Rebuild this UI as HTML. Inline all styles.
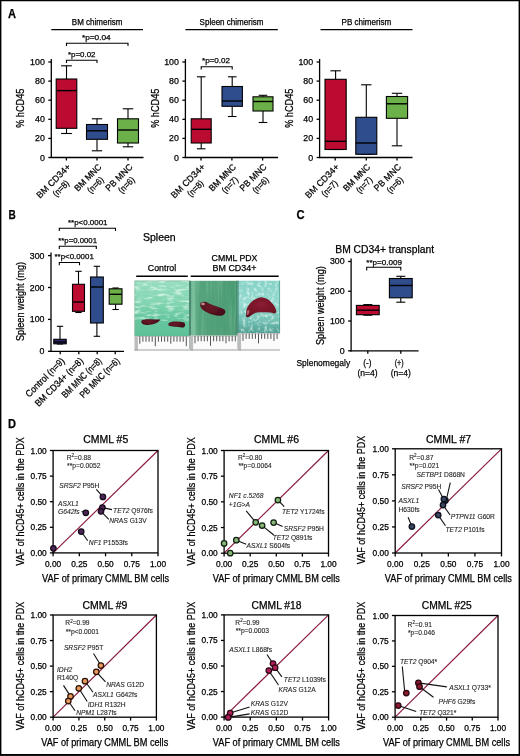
<!DOCTYPE html>
<html><head><meta charset="utf-8"><style>
html,body{margin:0;padding:0;background:#fff;}
body{width:520px;height:756px;overflow:hidden;position:relative;}
svg{position:absolute;left:0;top:0;will-change:transform;filter:blur(0.3px);}
text{font-family:"Liberation Sans", sans-serif;stroke:currentColor;stroke-width:0.25px;}
text.sm{stroke:#333;stroke-width:0.12px;}
</style></head><body>
<svg width="520" height="756" viewBox="0 0 520 756" font-family='"Liberation Sans", sans-serif'>
<rect x="0" y="0" width="520" height="756" fill="#fff"/>
<text x="8.00" y="18.40" font-size="12.6" font-weight="bold" textLength="8.00" lengthAdjust="spacingAndGlyphs">A</text>
<text x="8.40" y="218.90" font-size="12.6" font-weight="bold" textLength="7.30" lengthAdjust="spacingAndGlyphs">B</text>
<text x="296.60" y="218.80" font-size="12.6" font-weight="bold" textLength="8.10" lengthAdjust="spacingAndGlyphs">C</text>
<text x="8.10" y="428.40" font-size="12.6" font-weight="bold" textLength="8.00" lengthAdjust="spacingAndGlyphs">D</text>
<text x="97.15" y="25.10" font-size="8.2" text-anchor="middle" textLength="50.70" lengthAdjust="spacingAndGlyphs">BM chimerism</text>
<line x1="51.30" y1="29.60" x2="143.00" y2="29.60" stroke="#000" stroke-width="1.3"/>
<line x1="51.30" y1="59.00" x2="51.30" y2="158.10" stroke="#000" stroke-width="1.3"/>
<line x1="48.30" y1="157.50" x2="51.30" y2="157.50" stroke="#000" stroke-width="1.3"/>
<text x="44.80" y="160.50" font-size="8.8" text-anchor="end">0</text>
<line x1="48.30" y1="138.40" x2="51.30" y2="138.40" stroke="#000" stroke-width="1.3"/>
<text x="44.80" y="141.40" font-size="8.8" text-anchor="end">20</text>
<line x1="48.30" y1="119.30" x2="51.30" y2="119.30" stroke="#000" stroke-width="1.3"/>
<text x="44.80" y="122.30" font-size="8.8" text-anchor="end">40</text>
<line x1="48.30" y1="100.20" x2="51.30" y2="100.20" stroke="#000" stroke-width="1.3"/>
<text x="44.80" y="103.20" font-size="8.8" text-anchor="end">60</text>
<line x1="48.30" y1="81.10" x2="51.30" y2="81.10" stroke="#000" stroke-width="1.3"/>
<text x="44.80" y="84.10" font-size="8.8" text-anchor="end">80</text>
<line x1="48.30" y1="62.00" x2="51.30" y2="62.00" stroke="#000" stroke-width="1.3"/>
<text x="44.80" y="65.00" font-size="8.8" text-anchor="end">100</text>
<line x1="50.70" y1="157.50" x2="143.50" y2="157.50" stroke="#000" stroke-width="1.3"/>
<line x1="66.40" y1="157.50" x2="66.40" y2="160.50" stroke="#000" stroke-width="1.3"/>
<line x1="97.00" y1="157.50" x2="97.00" y2="160.50" stroke="#000" stroke-width="1.3"/>
<line x1="128.00" y1="157.50" x2="128.00" y2="160.50" stroke="#000" stroke-width="1.3"/>
<text x="24.40" y="108.20" font-size="10" text-anchor="middle" textLength="39.30" lengthAdjust="spacingAndGlyphs" transform="rotate(-90 24.40 108.20)">% hCD45</text>
<line x1="66.50" y1="65.80" x2="66.50" y2="79.00" stroke="#000" stroke-width="1.1"/>
<line x1="66.50" y1="128.30" x2="66.50" y2="133.50" stroke="#000" stroke-width="1.1"/>
<line x1="61.10" y1="65.80" x2="71.90" y2="65.80" stroke="#000" stroke-width="1.1"/>
<line x1="61.10" y1="133.50" x2="71.90" y2="133.50" stroke="#000" stroke-width="1.1"/>
<rect x="56.20" y="79.00" width="20.60" height="49.30" fill="#bb0b30" stroke="#000" stroke-width="1.1"/>
<line x1="56.20" y1="90.60" x2="76.80" y2="90.60" stroke="#000" stroke-width="1.4"/>
<line x1="97.00" y1="118.80" x2="97.00" y2="124.50" stroke="#000" stroke-width="1.1"/>
<line x1="97.00" y1="139.30" x2="97.00" y2="150.80" stroke="#000" stroke-width="1.1"/>
<line x1="91.80" y1="118.80" x2="102.20" y2="118.80" stroke="#000" stroke-width="1.1"/>
<line x1="91.80" y1="150.80" x2="102.20" y2="150.80" stroke="#000" stroke-width="1.1"/>
<rect x="86.50" y="124.50" width="21.00" height="14.80" fill="#2f4c8c" stroke="#000" stroke-width="1.1"/>
<line x1="86.50" y1="130.80" x2="107.50" y2="130.80" stroke="#000" stroke-width="1.4"/>
<line x1="128.00" y1="108.80" x2="128.00" y2="118.80" stroke="#000" stroke-width="1.1"/>
<line x1="128.00" y1="143.00" x2="128.00" y2="146.80" stroke="#000" stroke-width="1.1"/>
<line x1="122.80" y1="108.80" x2="133.20" y2="108.80" stroke="#000" stroke-width="1.1"/>
<line x1="122.80" y1="146.80" x2="133.20" y2="146.80" stroke="#000" stroke-width="1.1"/>
<rect x="117.50" y="118.80" width="21.00" height="24.20" fill="#6cb04a" stroke="#000" stroke-width="1.1"/>
<line x1="117.50" y1="130.00" x2="138.50" y2="130.00" stroke="#000" stroke-width="1.4"/>
<g transform="translate(71.10 167.60) rotate(-45)">
<text x="-22.00" y="0.00" font-size="9" text-anchor="middle" textLength="44.00" lengthAdjust="spacingAndGlyphs">BM CD34+</text>
<text x="-22.00" y="10.60" font-size="9" text-anchor="middle" textLength="19.00" lengthAdjust="spacingAndGlyphs">(n=8)</text>
</g>
<g transform="translate(102.10 167.60) rotate(-45)">
<text x="-17.00" y="0.00" font-size="9" text-anchor="middle" textLength="34.00" lengthAdjust="spacingAndGlyphs">BM MNC</text>
<text x="-17.00" y="10.60" font-size="9" text-anchor="middle" textLength="19.00" lengthAdjust="spacingAndGlyphs">(n=6)</text>
</g>
<g transform="translate(133.10 167.60) rotate(-45)">
<text x="-17.00" y="0.00" font-size="9" text-anchor="middle" textLength="34.00" lengthAdjust="spacingAndGlyphs">PB MNC</text>
<text x="-17.00" y="10.60" font-size="9" text-anchor="middle" textLength="19.00" lengthAdjust="spacingAndGlyphs">(n=6)</text>
</g>
<polyline points="66.50,46.00 66.50,43.20 128.00,43.20 128.00,46.00" fill="none" stroke="#000" stroke-width="1.1"/>
<text x="82.00" y="39.60" font-size="8" textLength="28.70" lengthAdjust="spacingAndGlyphs">*p=0.04</text>
<polyline points="66.50,63.00 66.50,60.20 97.00,60.20 97.00,63.00" fill="none" stroke="#000" stroke-width="1.1"/>
<text x="68.00" y="56.60" font-size="8" textLength="27.50" lengthAdjust="spacingAndGlyphs">*p=0.02</text>
<text x="231.50" y="25.10" font-size="8.2" text-anchor="middle" textLength="63.80" lengthAdjust="spacingAndGlyphs">Spleen chimerism</text>
<line x1="185.40" y1="29.60" x2="277.80" y2="29.60" stroke="#000" stroke-width="1.3"/>
<line x1="185.40" y1="59.00" x2="185.40" y2="158.10" stroke="#000" stroke-width="1.3"/>
<line x1="182.40" y1="157.50" x2="185.40" y2="157.50" stroke="#000" stroke-width="1.3"/>
<text x="178.90" y="160.50" font-size="8.8" text-anchor="end">0</text>
<line x1="182.40" y1="138.40" x2="185.40" y2="138.40" stroke="#000" stroke-width="1.3"/>
<text x="178.90" y="141.40" font-size="8.8" text-anchor="end">20</text>
<line x1="182.40" y1="119.30" x2="185.40" y2="119.30" stroke="#000" stroke-width="1.3"/>
<text x="178.90" y="122.30" font-size="8.8" text-anchor="end">40</text>
<line x1="182.40" y1="100.20" x2="185.40" y2="100.20" stroke="#000" stroke-width="1.3"/>
<text x="178.90" y="103.20" font-size="8.8" text-anchor="end">60</text>
<line x1="182.40" y1="81.10" x2="185.40" y2="81.10" stroke="#000" stroke-width="1.3"/>
<text x="178.90" y="84.10" font-size="8.8" text-anchor="end">80</text>
<line x1="182.40" y1="62.00" x2="185.40" y2="62.00" stroke="#000" stroke-width="1.3"/>
<text x="178.90" y="65.00" font-size="8.8" text-anchor="end">100</text>
<line x1="184.80" y1="157.50" x2="278.10" y2="157.50" stroke="#000" stroke-width="1.3"/>
<line x1="201.00" y1="157.50" x2="201.00" y2="160.50" stroke="#000" stroke-width="1.3"/>
<line x1="231.90" y1="157.50" x2="231.90" y2="160.50" stroke="#000" stroke-width="1.3"/>
<line x1="262.60" y1="157.50" x2="262.60" y2="160.50" stroke="#000" stroke-width="1.3"/>
<text x="158.60" y="108.20" font-size="10" text-anchor="middle" textLength="39.30" lengthAdjust="spacingAndGlyphs" transform="rotate(-90 158.60 108.20)">% hCD45</text>
<line x1="201.20" y1="76.80" x2="201.20" y2="118.80" stroke="#000" stroke-width="1.1"/>
<line x1="201.20" y1="143.00" x2="201.20" y2="148.80" stroke="#000" stroke-width="1.1"/>
<line x1="196.90" y1="76.80" x2="205.50" y2="76.80" stroke="#000" stroke-width="1.1"/>
<line x1="196.90" y1="148.80" x2="205.50" y2="148.80" stroke="#000" stroke-width="1.1"/>
<rect x="191.20" y="118.80" width="20.00" height="24.20" fill="#bb0b30" stroke="#000" stroke-width="1.1"/>
<line x1="191.20" y1="129.30" x2="211.20" y2="129.30" stroke="#000" stroke-width="1.4"/>
<line x1="232.20" y1="76.80" x2="232.20" y2="86.50" stroke="#000" stroke-width="1.1"/>
<line x1="232.20" y1="106.30" x2="232.20" y2="116.50" stroke="#000" stroke-width="1.1"/>
<line x1="227.90" y1="76.80" x2="236.50" y2="76.80" stroke="#000" stroke-width="1.1"/>
<line x1="227.90" y1="116.50" x2="236.50" y2="116.50" stroke="#000" stroke-width="1.1"/>
<rect x="222.00" y="86.50" width="20.40" height="19.80" fill="#2f4c8c" stroke="#000" stroke-width="1.1"/>
<line x1="222.00" y1="101.00" x2="242.40" y2="101.00" stroke="#000" stroke-width="1.4"/>
<line x1="263.00" y1="95.30" x2="263.00" y2="96.80" stroke="#000" stroke-width="1.1"/>
<line x1="263.00" y1="111.00" x2="263.00" y2="122.50" stroke="#000" stroke-width="1.1"/>
<line x1="258.70" y1="95.30" x2="267.30" y2="95.30" stroke="#000" stroke-width="1.1"/>
<line x1="258.70" y1="122.50" x2="267.30" y2="122.50" stroke="#000" stroke-width="1.1"/>
<rect x="253.00" y="96.80" width="20.00" height="14.20" fill="#6cb04a" stroke="#000" stroke-width="1.1"/>
<line x1="253.00" y1="101.50" x2="273.00" y2="101.50" stroke="#000" stroke-width="1.4"/>
<g transform="translate(205.60 167.60) rotate(-45)">
<text x="-22.00" y="0.00" font-size="9" text-anchor="middle" textLength="44.00" lengthAdjust="spacingAndGlyphs">BM CD34+</text>
<text x="-22.00" y="10.60" font-size="9" text-anchor="middle" textLength="19.00" lengthAdjust="spacingAndGlyphs">(n=8)</text>
</g>
<g transform="translate(236.60 167.60) rotate(-45)">
<text x="-17.00" y="0.00" font-size="9" text-anchor="middle" textLength="34.00" lengthAdjust="spacingAndGlyphs">BM MNC</text>
<text x="-17.00" y="10.60" font-size="9" text-anchor="middle" textLength="19.00" lengthAdjust="spacingAndGlyphs">(n=7)</text>
</g>
<g transform="translate(267.20 167.60) rotate(-45)">
<text x="-17.00" y="0.00" font-size="9" text-anchor="middle" textLength="34.00" lengthAdjust="spacingAndGlyphs">PB MNC</text>
<text x="-17.00" y="10.60" font-size="9" text-anchor="middle" textLength="19.00" lengthAdjust="spacingAndGlyphs">(n=6)</text>
</g>
<polyline points="201.20,69.60 201.20,66.80 232.20,66.80 232.20,69.60" fill="none" stroke="#000" stroke-width="1.1"/>
<text x="202.00" y="63.20" font-size="8" textLength="28.00" lengthAdjust="spacingAndGlyphs">*p=0.02</text>
<text x="366.40" y="25.10" font-size="8.2" text-anchor="middle" textLength="49.80" lengthAdjust="spacingAndGlyphs">PB chimerism</text>
<line x1="320.50" y1="29.60" x2="412.50" y2="29.60" stroke="#000" stroke-width="1.3"/>
<line x1="319.60" y1="59.00" x2="319.60" y2="158.10" stroke="#000" stroke-width="1.3"/>
<line x1="316.60" y1="157.50" x2="319.60" y2="157.50" stroke="#000" stroke-width="1.3"/>
<text x="313.10" y="160.50" font-size="8.8" text-anchor="end">0</text>
<line x1="316.60" y1="138.40" x2="319.60" y2="138.40" stroke="#000" stroke-width="1.3"/>
<text x="313.10" y="141.40" font-size="8.8" text-anchor="end">20</text>
<line x1="316.60" y1="119.30" x2="319.60" y2="119.30" stroke="#000" stroke-width="1.3"/>
<text x="313.10" y="122.30" font-size="8.8" text-anchor="end">40</text>
<line x1="316.60" y1="100.20" x2="319.60" y2="100.20" stroke="#000" stroke-width="1.3"/>
<text x="313.10" y="103.20" font-size="8.8" text-anchor="end">60</text>
<line x1="316.60" y1="81.10" x2="319.60" y2="81.10" stroke="#000" stroke-width="1.3"/>
<text x="313.10" y="84.10" font-size="8.8" text-anchor="end">80</text>
<line x1="316.60" y1="62.00" x2="319.60" y2="62.00" stroke="#000" stroke-width="1.3"/>
<text x="313.10" y="65.00" font-size="8.8" text-anchor="end">100</text>
<line x1="319.00" y1="157.50" x2="412.50" y2="157.50" stroke="#000" stroke-width="1.3"/>
<line x1="335.20" y1="157.50" x2="335.20" y2="160.50" stroke="#000" stroke-width="1.3"/>
<line x1="366.30" y1="157.50" x2="366.30" y2="160.50" stroke="#000" stroke-width="1.3"/>
<line x1="397.00" y1="157.50" x2="397.00" y2="160.50" stroke="#000" stroke-width="1.3"/>
<text x="293.40" y="108.20" font-size="10" text-anchor="middle" textLength="39.30" lengthAdjust="spacingAndGlyphs" transform="rotate(-90 293.40 108.20)">% hCD45</text>
<line x1="335.60" y1="70.80" x2="335.60" y2="79.30" stroke="#000" stroke-width="1.1"/>
<line x1="335.60" y1="149.50" x2="335.60" y2="149.50" stroke="#000" stroke-width="1.1"/>
<line x1="330.40" y1="70.80" x2="340.80" y2="70.80" stroke="#000" stroke-width="1.1"/>
<line x1="330.40" y1="149.50" x2="340.80" y2="149.50" stroke="#000" stroke-width="1.1"/>
<rect x="325.00" y="79.30" width="21.20" height="70.20" fill="#bb0b30" stroke="#000" stroke-width="1.1"/>
<line x1="325.00" y1="141.30" x2="346.20" y2="141.30" stroke="#000" stroke-width="1.4"/>
<line x1="366.30" y1="84.80" x2="366.30" y2="117.30" stroke="#000" stroke-width="1.1"/>
<line x1="366.30" y1="154.30" x2="366.30" y2="154.30" stroke="#000" stroke-width="1.1"/>
<line x1="361.10" y1="84.80" x2="371.50" y2="84.80" stroke="#000" stroke-width="1.1"/>
<line x1="361.10" y1="154.30" x2="371.50" y2="154.30" stroke="#000" stroke-width="1.1"/>
<rect x="355.80" y="117.30" width="21.00" height="37.00" fill="#2f4c8c" stroke="#000" stroke-width="1.1"/>
<line x1="355.80" y1="143.00" x2="376.80" y2="143.00" stroke="#000" stroke-width="1.4"/>
<line x1="397.00" y1="93.30" x2="397.00" y2="96.50" stroke="#000" stroke-width="1.1"/>
<line x1="397.00" y1="118.30" x2="397.00" y2="145.80" stroke="#000" stroke-width="1.1"/>
<line x1="391.80" y1="93.30" x2="402.20" y2="93.30" stroke="#000" stroke-width="1.1"/>
<line x1="391.80" y1="145.80" x2="402.20" y2="145.80" stroke="#000" stroke-width="1.1"/>
<rect x="386.40" y="96.50" width="21.20" height="21.80" fill="#6cb04a" stroke="#000" stroke-width="1.1"/>
<line x1="386.40" y1="103.80" x2="407.60" y2="103.80" stroke="#000" stroke-width="1.4"/>
<g transform="translate(339.80 167.60) rotate(-45)">
<text x="-22.00" y="0.00" font-size="9" text-anchor="middle" textLength="44.00" lengthAdjust="spacingAndGlyphs">BM CD34+</text>
<text x="-22.00" y="10.60" font-size="9" text-anchor="middle" textLength="19.00" lengthAdjust="spacingAndGlyphs">(n=7)</text>
</g>
<g transform="translate(370.90 167.60) rotate(-45)">
<text x="-17.00" y="0.00" font-size="9" text-anchor="middle" textLength="34.00" lengthAdjust="spacingAndGlyphs">BM MNC</text>
<text x="-17.00" y="10.60" font-size="9" text-anchor="middle" textLength="19.00" lengthAdjust="spacingAndGlyphs">(n=7)</text>
</g>
<g transform="translate(401.60 167.60) rotate(-45)">
<text x="-17.00" y="0.00" font-size="9" text-anchor="middle" textLength="34.00" lengthAdjust="spacingAndGlyphs">PB MNC</text>
<text x="-17.00" y="10.60" font-size="9" text-anchor="middle" textLength="19.00" lengthAdjust="spacingAndGlyphs">(n=6)</text>
</g>
<line x1="51.00" y1="252.50" x2="51.00" y2="351.90" stroke="#000" stroke-width="1.3"/>
<line x1="48.00" y1="351.30" x2="51.00" y2="351.30" stroke="#000" stroke-width="1.3"/>
<text x="44.50" y="354.30" font-size="8.8" text-anchor="end">0</text>
<line x1="48.00" y1="319.40" x2="51.00" y2="319.40" stroke="#000" stroke-width="1.3"/>
<text x="44.50" y="322.40" font-size="8.8" text-anchor="end">100</text>
<line x1="48.00" y1="287.50" x2="51.00" y2="287.50" stroke="#000" stroke-width="1.3"/>
<text x="44.50" y="290.50" font-size="8.8" text-anchor="end">200</text>
<line x1="48.00" y1="255.60" x2="51.00" y2="255.60" stroke="#000" stroke-width="1.3"/>
<text x="44.50" y="258.60" font-size="8.8" text-anchor="end">300</text>
<line x1="50.40" y1="351.30" x2="124.00" y2="351.30" stroke="#000" stroke-width="1.3"/>
<line x1="60.20" y1="351.30" x2="60.20" y2="354.30" stroke="#000" stroke-width="1.3"/>
<line x1="78.80" y1="351.30" x2="78.80" y2="354.30" stroke="#000" stroke-width="1.3"/>
<line x1="97.20" y1="351.30" x2="97.20" y2="354.30" stroke="#000" stroke-width="1.3"/>
<line x1="115.20" y1="351.30" x2="115.20" y2="354.30" stroke="#000" stroke-width="1.3"/>
<text x="24.20" y="301.50" font-size="10" text-anchor="middle" textLength="79.20" lengthAdjust="spacingAndGlyphs" transform="rotate(-90 24.20 301.50)">Spleen weight (mg)</text>
<line x1="60.00" y1="326.30" x2="60.00" y2="339.30" stroke="#000" stroke-width="1.1"/>
<line x1="60.00" y1="343.80" x2="60.00" y2="344.00" stroke="#000" stroke-width="1.1"/>
<line x1="56.80" y1="326.30" x2="63.20" y2="326.30" stroke="#000" stroke-width="1.1"/>
<line x1="56.80" y1="344.00" x2="63.20" y2="344.00" stroke="#000" stroke-width="1.1"/>
<rect x="53.80" y="339.30" width="12.40" height="4.50" fill="#2b2870" stroke="#000" stroke-width="1.1"/>
<line x1="53.80" y1="342.00" x2="66.20" y2="342.00" stroke="#000" stroke-width="1.4"/>
<line x1="78.50" y1="271.30" x2="78.50" y2="284.30" stroke="#000" stroke-width="1.1"/>
<line x1="78.50" y1="311.30" x2="78.50" y2="312.50" stroke="#000" stroke-width="1.1"/>
<line x1="75.30" y1="271.30" x2="81.70" y2="271.30" stroke="#000" stroke-width="1.1"/>
<line x1="75.30" y1="312.50" x2="81.70" y2="312.50" stroke="#000" stroke-width="1.1"/>
<rect x="72.50" y="284.30" width="12.00" height="27.00" fill="#bb0b30" stroke="#000" stroke-width="1.1"/>
<line x1="72.50" y1="302.00" x2="84.50" y2="302.00" stroke="#000" stroke-width="1.4"/>
<line x1="96.90" y1="266.30" x2="96.90" y2="277.00" stroke="#000" stroke-width="1.1"/>
<line x1="96.90" y1="323.00" x2="96.90" y2="336.30" stroke="#000" stroke-width="1.1"/>
<line x1="93.70" y1="266.30" x2="100.10" y2="266.30" stroke="#000" stroke-width="1.1"/>
<line x1="93.70" y1="336.30" x2="100.10" y2="336.30" stroke="#000" stroke-width="1.1"/>
<rect x="90.50" y="277.00" width="12.80" height="46.00" fill="#2f4c8c" stroke="#000" stroke-width="1.1"/>
<line x1="90.50" y1="287.00" x2="103.30" y2="287.00" stroke="#000" stroke-width="1.4"/>
<line x1="115.60" y1="288.00" x2="115.60" y2="288.80" stroke="#000" stroke-width="1.1"/>
<line x1="115.60" y1="304.20" x2="115.60" y2="309.50" stroke="#000" stroke-width="1.1"/>
<line x1="112.40" y1="288.00" x2="118.80" y2="288.00" stroke="#000" stroke-width="1.1"/>
<line x1="112.40" y1="309.50" x2="118.80" y2="309.50" stroke="#000" stroke-width="1.1"/>
<rect x="109.20" y="288.80" width="12.80" height="15.40" fill="#6cb04a" stroke="#000" stroke-width="1.1"/>
<line x1="109.20" y1="294.30" x2="122.00" y2="294.30" stroke="#000" stroke-width="1.4"/>
<g transform="translate(63.20 359.5) rotate(-45)">
<text x="0.00" y="3.00" font-size="9.5" text-anchor="end" textLength="51.00" lengthAdjust="spacingAndGlyphs">Control (n=9)</text>
</g>
<g transform="translate(81.80 359.5) rotate(-45)">
<text x="0.00" y="3.00" font-size="9.5" text-anchor="end" textLength="64.00" lengthAdjust="spacingAndGlyphs">BM CD34+ (n=8)</text>
</g>
<g transform="translate(100.20 359.5) rotate(-45)">
<text x="0.00" y="3.00" font-size="9.5" text-anchor="end" textLength="52.00" lengthAdjust="spacingAndGlyphs">BM MNC (n=8)</text>
</g>
<g transform="translate(118.20 359.5) rotate(-45)">
<text x="0.00" y="3.00" font-size="9.5" text-anchor="end" textLength="52.00" lengthAdjust="spacingAndGlyphs">PB MNC (n=6)</text>
</g>
<polyline points="59.30,231.10 59.30,228.30 115.50,228.30 115.50,231.10" fill="none" stroke="#000" stroke-width="1.1"/>
<text x="68.00" y="225.10" font-size="8" textLength="39.50" lengthAdjust="spacingAndGlyphs">**p<0.0001</text>
<polyline points="59.30,249.10 59.30,246.30 96.30,246.30 96.30,249.10" fill="none" stroke="#000" stroke-width="1.1"/>
<text x="58.30" y="243.10" font-size="8" textLength="38.70" lengthAdjust="spacingAndGlyphs">**p=0.0001</text>
<polyline points="59.30,265.30 59.30,262.50 79.50,262.50 79.50,265.30" fill="none" stroke="#000" stroke-width="1.1"/>
<text x="54.50" y="259.30" font-size="8" textLength="39.30" lengthAdjust="spacingAndGlyphs">**p<0.0001</text>
<text x="143.00" y="240.50" font-size="10.5" textLength="32.70" lengthAdjust="spacingAndGlyphs">Spleen</text>
<text x="162.00" y="271.00" font-size="9" text-anchor="middle" textLength="28.40" lengthAdjust="spacingAndGlyphs">Control</text>
<text x="234.50" y="261.00" font-size="9" text-anchor="middle" textLength="45.80" lengthAdjust="spacingAndGlyphs">CMML PDX</text>
<text x="234.50" y="271.30" font-size="9" text-anchor="middle" textLength="43.80" lengthAdjust="spacingAndGlyphs">BM CD34+</text>
<line x1="136.20" y1="276.20" x2="187.80" y2="276.20" stroke="#000" stroke-width="1.6"/>
<line x1="190.70" y1="276.20" x2="278.70" y2="276.20" stroke="#000" stroke-width="1.6"/>
<defs><linearGradient id="g1" x1="0" y1="0" x2="0" y2="1"><stop offset="0" stop-color="#98dec0"/><stop offset="0.4" stop-color="#82d5b0"/><stop offset="0.65" stop-color="#68c89f"/><stop offset="1" stop-color="#5cc097"/></linearGradient><linearGradient id="g2" x1="0" y1="0" x2="1" y2="0"><stop offset="0" stop-color="#62ad88"/><stop offset="0.08" stop-color="#7cc29e"/><stop offset="0.16" stop-color="#55a47e"/><stop offset="1" stop-color="#4a9b74"/></linearGradient><linearGradient id="g3" x1="0" y1="0" x2="0" y2="1"><stop offset="0" stop-color="#86d2c6"/><stop offset="0.45" stop-color="#96dacf"/><stop offset="0.75" stop-color="#74c2b5"/><stop offset="1" stop-color="#4f9f92"/></linearGradient><radialGradient id="sp" cx="0.4" cy="0.4" r="0.8"><stop offset="0" stop-color="#6e1828"/><stop offset="1" stop-color="#320a12"/></radialGradient><radialGradient id="sp2" cx="0.4" cy="0.4" r="0.8"><stop offset="0" stop-color="#6a1828"/><stop offset="1" stop-color="#3e0b16"/></radialGradient><radialGradient id="sp3" cx="0.5" cy="0.35" r="0.8"><stop offset="0" stop-color="#8a1c32"/><stop offset="0.7" stop-color="#701324"/><stop offset="1" stop-color="#500a18"/></radialGradient><filter id="blur1" x="-0.2" y="-0.2" width="1.4" height="1.4"><feGaussianBlur stdDeviation="0.6"/></filter><filter id="blur2" x="-0.2" y="-0.2" width="1.4" height="1.4"><feGaussianBlur stdDeviation="0.35"/></filter><filter id="tex1" x="0" y="0" width="1" height="1"><feTurbulence type="fractalNoise" baseFrequency="0.12 0.35" numOctaves="2" seed="3"/><feColorMatrix type="matrix" values="0 0 0 0 0.9  0 0 0 0 1  0 0 0 0 0.95  0 0 0 2.2 -1.05"/><feGaussianBlur stdDeviation="0.5"/><feComposite in2="SourceGraphic" operator="in"/></filter><filter id="tex2" x="0" y="0" width="1" height="1"><feTurbulence type="fractalNoise" baseFrequency="0.35 0.02" numOctaves="2" seed="5"/><feColorMatrix type="matrix" values="0 0 0 0 0.6  0 0 0 0 0.9  0 0 0 0 0.75  0 0 0 2.0 -1.0"/><feGaussianBlur stdDeviation="0.4"/><feComposite in2="SourceGraphic" operator="in"/></filter><filter id="tex3" x="0" y="0" width="1" height="1"><feTurbulence type="fractalNoise" baseFrequency="0.28" numOctaves="2" seed="7"/><feColorMatrix type="matrix" values="0 0 0 0 0.92  0 0 0 0 1  0 0 0 0 0.98  0 0 0 2.6 -1.25"/><feGaussianBlur stdDeviation="0.3"/><feComposite in2="SourceGraphic" operator="in"/></filter></defs>
<rect x="134.50" y="280.60" width="54.70" height="55.80" fill="url(#g1)" stroke="none" stroke-width="0"/>
<polyline points="134.90,336.20 134.90,281.00 189.20,281.00" fill="none" stroke="#8fb8a4" stroke-width="0.8"/>
<rect x="134.5" y="280.6" width="54.7" height="40" fill="#ffffff" filter="url(#tex1)" opacity="0.9"/>
<rect x="189.70" y="280.80" width="47.80" height="55.00" fill="url(#g2)" stroke="none" stroke-width="0"/>
<rect x="190.5" y="280.8" width="46.7" height="55" fill="#ffffff" filter="url(#tex2)" opacity="0.25"/>
<line x1="189.90" y1="280.80" x2="189.90" y2="349.50" stroke="#2d6a50" stroke-width="1.3"/>
<line x1="237.20" y1="280.80" x2="237.20" y2="349.50" stroke="#3d7a60" stroke-width="0.8"/>
<rect x="237.70" y="280.70" width="42.20" height="52.60" fill="url(#g3)" stroke="none" stroke-width="0"/>
<rect x="238.2" y="280.7" width="41.4" height="52.6" fill="#ffffff" filter="url(#tex3)" opacity="0.75"/>
<line x1="238.00" y1="280.70" x2="238.00" y2="349.50" stroke="#3a8070" stroke-width="1.0"/>
<line x1="279.60" y1="280.70" x2="279.60" y2="333.30" stroke="#4a9a8a" stroke-width="0.8"/>
<rect x="134.50" y="336.20" width="54.70" height="14.30" fill="#fbfbfb" stroke="none" stroke-width="0"/>
<line x1="134.50" y1="336.50" x2="189.20" y2="336.50" stroke="#b5b5b5" stroke-width="0.8"/>
<rect x="134.50" y="336.20" width="3.40" height="14.30" fill="#bcbcbc" stroke="none" stroke-width="0"/>
<line x1="134.50" y1="350.00" x2="189.20" y2="350.00" stroke="#a0a0a0" stroke-width="1.0"/>
<line x1="139.80" y1="336.50" x2="139.80" y2="343.70" stroke="#4a4a4a" stroke-width="0.95"/>
<line x1="142.90" y1="336.50" x2="142.90" y2="341.70" stroke="#4a4a4a" stroke-width="0.95"/>
<line x1="146.00" y1="336.50" x2="146.00" y2="341.70" stroke="#4a4a4a" stroke-width="0.95"/>
<line x1="149.10" y1="336.50" x2="149.10" y2="341.70" stroke="#4a4a4a" stroke-width="0.95"/>
<line x1="152.20" y1="336.50" x2="152.20" y2="341.70" stroke="#4a4a4a" stroke-width="0.95"/>
<line x1="155.30" y1="336.50" x2="155.30" y2="346.20" stroke="#4a4a4a" stroke-width="0.95"/>
<line x1="158.40" y1="336.50" x2="158.40" y2="341.70" stroke="#4a4a4a" stroke-width="0.95"/>
<line x1="161.50" y1="336.50" x2="161.50" y2="341.70" stroke="#4a4a4a" stroke-width="0.95"/>
<line x1="164.60" y1="336.50" x2="164.60" y2="341.70" stroke="#4a4a4a" stroke-width="0.95"/>
<line x1="167.70" y1="336.50" x2="167.70" y2="341.70" stroke="#4a4a4a" stroke-width="0.95"/>
<line x1="170.80" y1="336.50" x2="170.80" y2="343.70" stroke="#4a4a4a" stroke-width="0.95"/>
<line x1="173.90" y1="336.50" x2="173.90" y2="341.70" stroke="#4a4a4a" stroke-width="0.95"/>
<line x1="177.00" y1="336.50" x2="177.00" y2="341.70" stroke="#4a4a4a" stroke-width="0.95"/>
<line x1="180.10" y1="336.50" x2="180.10" y2="341.70" stroke="#4a4a4a" stroke-width="0.95"/>
<line x1="183.20" y1="336.50" x2="183.20" y2="341.70" stroke="#4a4a4a" stroke-width="0.95"/>
<line x1="186.30" y1="336.50" x2="186.30" y2="346.20" stroke="#4a4a4a" stroke-width="0.95"/>
<rect x="189.70" y="335.80" width="47.80" height="14.70" fill="#fbfbfb" stroke="none" stroke-width="0"/>
<line x1="189.70" y1="336.10" x2="237.50" y2="336.10" stroke="#b5b5b5" stroke-width="0.8"/>
<rect x="189.70" y="335.80" width="3.40" height="14.70" fill="#bcbcbc" stroke="none" stroke-width="0"/>
<line x1="189.70" y1="350.00" x2="237.50" y2="350.00" stroke="#a0a0a0" stroke-width="1.0"/>
<line x1="195.00" y1="336.10" x2="195.00" y2="343.30" stroke="#4a4a4a" stroke-width="0.95"/>
<line x1="198.10" y1="336.10" x2="198.10" y2="341.30" stroke="#4a4a4a" stroke-width="0.95"/>
<line x1="201.20" y1="336.10" x2="201.20" y2="341.30" stroke="#4a4a4a" stroke-width="0.95"/>
<line x1="204.30" y1="336.10" x2="204.30" y2="341.30" stroke="#4a4a4a" stroke-width="0.95"/>
<line x1="207.40" y1="336.10" x2="207.40" y2="341.30" stroke="#4a4a4a" stroke-width="0.95"/>
<line x1="210.50" y1="336.10" x2="210.50" y2="345.80" stroke="#4a4a4a" stroke-width="0.95"/>
<line x1="213.60" y1="336.10" x2="213.60" y2="341.30" stroke="#4a4a4a" stroke-width="0.95"/>
<line x1="216.70" y1="336.10" x2="216.70" y2="341.30" stroke="#4a4a4a" stroke-width="0.95"/>
<line x1="219.80" y1="336.10" x2="219.80" y2="341.30" stroke="#4a4a4a" stroke-width="0.95"/>
<line x1="222.90" y1="336.10" x2="222.90" y2="341.30" stroke="#4a4a4a" stroke-width="0.95"/>
<line x1="226.00" y1="336.10" x2="226.00" y2="343.30" stroke="#4a4a4a" stroke-width="0.95"/>
<line x1="229.10" y1="336.10" x2="229.10" y2="341.30" stroke="#4a4a4a" stroke-width="0.95"/>
<line x1="232.20" y1="336.10" x2="232.20" y2="341.30" stroke="#4a4a4a" stroke-width="0.95"/>
<line x1="235.30" y1="336.10" x2="235.30" y2="341.30" stroke="#4a4a4a" stroke-width="0.95"/>
<rect x="237.70" y="333.40" width="42.20" height="17.10" fill="#fbfbfb" stroke="none" stroke-width="0"/>
<line x1="237.70" y1="333.70" x2="279.90" y2="333.70" stroke="#b5b5b5" stroke-width="0.8"/>
<rect x="237.70" y="333.40" width="3.40" height="17.10" fill="#bcbcbc" stroke="none" stroke-width="0"/>
<line x1="237.70" y1="350.00" x2="279.90" y2="350.00" stroke="#a0a0a0" stroke-width="1.0"/>
<line x1="243.00" y1="333.70" x2="243.00" y2="340.90" stroke="#4a4a4a" stroke-width="0.95"/>
<line x1="246.10" y1="333.70" x2="246.10" y2="338.90" stroke="#4a4a4a" stroke-width="0.95"/>
<line x1="249.20" y1="333.70" x2="249.20" y2="338.90" stroke="#4a4a4a" stroke-width="0.95"/>
<line x1="252.30" y1="333.70" x2="252.30" y2="338.90" stroke="#4a4a4a" stroke-width="0.95"/>
<line x1="255.40" y1="333.70" x2="255.40" y2="338.90" stroke="#4a4a4a" stroke-width="0.95"/>
<line x1="258.50" y1="333.70" x2="258.50" y2="343.40" stroke="#4a4a4a" stroke-width="0.95"/>
<line x1="261.60" y1="333.70" x2="261.60" y2="338.90" stroke="#4a4a4a" stroke-width="0.95"/>
<line x1="264.70" y1="333.70" x2="264.70" y2="338.90" stroke="#4a4a4a" stroke-width="0.95"/>
<line x1="267.80" y1="333.70" x2="267.80" y2="338.90" stroke="#4a4a4a" stroke-width="0.95"/>
<line x1="270.90" y1="333.70" x2="270.90" y2="338.90" stroke="#4a4a4a" stroke-width="0.95"/>
<line x1="274.00" y1="333.70" x2="274.00" y2="340.90" stroke="#4a4a4a" stroke-width="0.95"/>
<line x1="277.10" y1="333.70" x2="277.10" y2="338.90" stroke="#4a4a4a" stroke-width="0.95"/>
<g filter="url(#blur2)">
<path d="M141.3,321.3 C141.8,318.6 150,319.0 160.2,319.6 C159.4,322.8 152.5,325.3 146.3,325.0 C142.6,324.8 141.0,323.2 141.3,321.3 Z" fill="url(#sp)"/>
<path d="M168.3,323.6 C169.8,321.2 178,321.0 184.2,322.4 C186.0,324.5 185.2,327.7 182.2,327.5 C177.5,326.6 171.2,326.8 168.6,325.4 Z" fill="url(#sp)"/>
<path d="M200.2,305.0 C199.8,301.4 204.5,301.0 208.5,303.2 C214.5,306.2 221.5,307.2 224.9,310.0 C226.6,313.4 223.5,316.3 218.5,315.8 C212.0,315.0 205.0,312.2 202.0,309.0 C200.8,307.6 200.3,306.3 200.2,305.0 Z" fill="url(#sp2)"/>
<ellipse cx="203.0" cy="303.9" rx="1.8" ry="1.3" fill="#d0a0a8" opacity="0.85"/>
<path d="M246.2,316.5 C245.8,311.5 246.6,307.5 249.3,304.2 C252.0,300.8 256.0,298.2 260.0,297.4 C264.5,297.0 268.8,299.5 271.4,302.4 C274.0,305.0 276.0,308.0 276.3,311.2 C276.0,313.0 275.0,313.8 274.0,313.5 C272.0,312.8 271.0,312.6 269.6,312.6 C266.0,312.2 262.5,312.0 257.2,312.6 C254.8,313.0 252.5,314.5 250.6,315.7 C249.5,316.6 248.5,317.2 247.2,317.2 C246.6,317.1 246.3,316.9 246.2,316.5 Z" fill="url(#sp3)"/>
<ellipse cx="248.0" cy="312.5" rx="1.3" ry="2.8" fill="#d88c98" opacity="0.6" transform="rotate(15 248 312.5)"/>
</g>
<text x="335.30" y="253.10" font-size="10.3" textLength="98.80" lengthAdjust="spacingAndGlyphs">BM CD34+ transplant</text>
<line x1="351.10" y1="258.60" x2="351.10" y2="351.40" stroke="#000" stroke-width="1.3"/>
<line x1="348.10" y1="350.80" x2="351.10" y2="350.80" stroke="#000" stroke-width="1.3"/>
<text x="344.60" y="353.80" font-size="8.8" text-anchor="end">0</text>
<line x1="348.10" y1="321.03" x2="351.10" y2="321.03" stroke="#000" stroke-width="1.3"/>
<text x="344.60" y="324.03" font-size="8.8" text-anchor="end">100</text>
<line x1="348.10" y1="291.26" x2="351.10" y2="291.26" stroke="#000" stroke-width="1.3"/>
<text x="344.60" y="294.26" font-size="8.8" text-anchor="end">200</text>
<line x1="348.10" y1="261.49" x2="351.10" y2="261.49" stroke="#000" stroke-width="1.3"/>
<text x="344.60" y="264.49" font-size="8.8" text-anchor="end">300</text>
<line x1="350.50" y1="350.80" x2="418.60" y2="350.80" stroke="#000" stroke-width="1.3"/>
<line x1="367.80" y1="350.80" x2="367.80" y2="353.80" stroke="#000" stroke-width="1.3"/>
<line x1="400.80" y1="350.80" x2="400.80" y2="353.80" stroke="#000" stroke-width="1.3"/>
<text x="324.00" y="305.60" font-size="10" text-anchor="middle" textLength="78.80" lengthAdjust="spacingAndGlyphs" transform="rotate(-90 324.00 305.60)">Spleen weight (mg)</text>
<line x1="367.80" y1="304.60" x2="367.80" y2="305.40" stroke="#000" stroke-width="1.1"/>
<line x1="367.80" y1="314.70" x2="367.80" y2="315.20" stroke="#000" stroke-width="1.1"/>
<line x1="363.30" y1="304.60" x2="372.30" y2="304.60" stroke="#000" stroke-width="1.1"/>
<line x1="363.30" y1="315.20" x2="372.30" y2="315.20" stroke="#000" stroke-width="1.1"/>
<rect x="356.40" y="305.40" width="22.80" height="9.30" fill="#bb0b30" stroke="#000" stroke-width="1.1"/>
<line x1="356.40" y1="310.20" x2="379.20" y2="310.20" stroke="#000" stroke-width="1.4"/>
<line x1="400.80" y1="276.30" x2="400.80" y2="278.50" stroke="#000" stroke-width="1.1"/>
<line x1="400.80" y1="297.80" x2="400.80" y2="302.20" stroke="#000" stroke-width="1.1"/>
<line x1="396.30" y1="276.30" x2="405.30" y2="276.30" stroke="#000" stroke-width="1.1"/>
<line x1="396.30" y1="302.20" x2="405.30" y2="302.20" stroke="#000" stroke-width="1.1"/>
<rect x="389.40" y="278.50" width="22.80" height="19.30" fill="#2f4c8c" stroke="#000" stroke-width="1.1"/>
<line x1="389.40" y1="285.50" x2="412.20" y2="285.50" stroke="#000" stroke-width="1.4"/>
<polyline points="366.70,270.50 366.70,267.30 400.80,267.30 400.80,270.50" fill="none" stroke="#000" stroke-width="1.1"/>
<text x="366.30" y="265.00" font-size="8" textLength="35.70" lengthAdjust="spacingAndGlyphs">**p=0.009</text>
<text x="296.40" y="365.50" font-size="9.8" textLength="53.80" lengthAdjust="spacingAndGlyphs">Splenomegaly</text>
<text x="367.40" y="365.80" font-size="9.5" text-anchor="middle" textLength="8.20" lengthAdjust="spacingAndGlyphs">(-)</text>
<text x="367.60" y="375.80" font-size="9.5" text-anchor="middle" textLength="20.20" lengthAdjust="spacingAndGlyphs">(n=4)</text>
<text x="399.20" y="365.80" font-size="9.5" text-anchor="middle" textLength="9.00" lengthAdjust="spacingAndGlyphs">(+)</text>
<text x="400.80" y="375.80" font-size="9.5" text-anchor="middle" textLength="20.20" lengthAdjust="spacingAndGlyphs">(n=4)</text>
<line x1="53.10" y1="552.90" x2="158.00" y2="450.50" stroke="#8a1a3e" stroke-width="1.15"/>
<rect x="53.10" y="450.50" width="104.90" height="102.40" fill="none" stroke="#000" stroke-width="1.3"/>
<line x1="49.90" y1="552.90" x2="53.10" y2="552.90" stroke="#000" stroke-width="1.3"/>
<text x="46.70" y="555.90" font-size="8.3" text-anchor="end" textLength="16.20" lengthAdjust="spacingAndGlyphs">0.00</text>
<line x1="53.10" y1="552.90" x2="53.10" y2="556.30" stroke="#000" stroke-width="1.3"/>
<text x="53.10" y="567.10" font-size="8.3" text-anchor="middle" textLength="16.20" lengthAdjust="spacingAndGlyphs">0.00</text>
<line x1="49.90" y1="527.30" x2="53.10" y2="527.30" stroke="#000" stroke-width="1.3"/>
<text x="46.70" y="530.30" font-size="8.3" text-anchor="end" textLength="16.20" lengthAdjust="spacingAndGlyphs">0.25</text>
<line x1="79.33" y1="552.90" x2="79.33" y2="556.30" stroke="#000" stroke-width="1.3"/>
<text x="79.33" y="567.10" font-size="8.3" text-anchor="middle" textLength="16.20" lengthAdjust="spacingAndGlyphs">0.25</text>
<line x1="49.90" y1="501.70" x2="53.10" y2="501.70" stroke="#000" stroke-width="1.3"/>
<text x="46.70" y="504.70" font-size="8.3" text-anchor="end" textLength="16.20" lengthAdjust="spacingAndGlyphs">0.50</text>
<line x1="105.55" y1="552.90" x2="105.55" y2="556.30" stroke="#000" stroke-width="1.3"/>
<text x="105.55" y="567.10" font-size="8.3" text-anchor="middle" textLength="16.20" lengthAdjust="spacingAndGlyphs">0.50</text>
<line x1="49.90" y1="476.10" x2="53.10" y2="476.10" stroke="#000" stroke-width="1.3"/>
<text x="46.70" y="479.10" font-size="8.3" text-anchor="end" textLength="16.20" lengthAdjust="spacingAndGlyphs">0.75</text>
<line x1="131.78" y1="552.90" x2="131.78" y2="556.30" stroke="#000" stroke-width="1.3"/>
<text x="131.78" y="567.10" font-size="8.3" text-anchor="middle" textLength="16.20" lengthAdjust="spacingAndGlyphs">0.75</text>
<line x1="49.90" y1="450.50" x2="53.10" y2="450.50" stroke="#000" stroke-width="1.3"/>
<text x="46.70" y="453.50" font-size="8.3" text-anchor="end" textLength="16.20" lengthAdjust="spacingAndGlyphs">1.00</text>
<line x1="158.00" y1="552.90" x2="158.00" y2="556.30" stroke="#000" stroke-width="1.3"/>
<text x="158.00" y="567.10" font-size="8.3" text-anchor="middle" textLength="16.20" lengthAdjust="spacingAndGlyphs">1.00</text>
<text x="105.55" y="581.50" font-size="10" text-anchor="middle" textLength="127.00" lengthAdjust="spacingAndGlyphs">VAF of primary CMML BM cells</text>
<text x="24.00" y="501.50" font-size="10" text-anchor="middle" textLength="128.30" lengthAdjust="spacingAndGlyphs" transform="rotate(-90 24.00 501.50)">VAF of hCD45+ cells in the PDX</text>
<text x="105.75" y="443.30" font-size="10.1" text-anchor="middle" textLength="45.00" lengthAdjust="spacingAndGlyphs">CMML #5</text>
<line x1="96.30" y1="489.30" x2="102.90" y2="496.90" stroke="#111" stroke-width="1.1"/>
<line x1="102.40" y1="507.60" x2="112.00" y2="509.60" stroke="#111" stroke-width="1.1"/>
<line x1="101.00" y1="511.30" x2="108.80" y2="519.30" stroke="#111" stroke-width="1.1"/>
<line x1="81.60" y1="511.40" x2="85.80" y2="512.80" stroke="#111" stroke-width="1.1"/>
<line x1="81.20" y1="531.50" x2="87.70" y2="540.80" stroke="#111" stroke-width="1.1"/>
<circle cx="102.90" cy="496.90" r="2.75" fill="#4b2558" stroke="#140a18" stroke-width="1.25"/>
<circle cx="102.40" cy="507.60" r="2.75" fill="#4b2558" stroke="#140a18" stroke-width="1.25"/>
<circle cx="101.00" cy="511.30" r="2.75" fill="#4b2558" stroke="#140a18" stroke-width="1.25"/>
<circle cx="85.80" cy="512.80" r="2.75" fill="#4b2558" stroke="#140a18" stroke-width="1.25"/>
<circle cx="81.20" cy="531.50" r="2.75" fill="#4b2558" stroke="#140a18" stroke-width="1.25"/>
<circle cx="53.40" cy="548.30" r="2.75" fill="#4b2558" stroke="#140a18" stroke-width="1.25"/>
<text class="sm" x="66.70" y="459.70" font-size="6.7" fill="#222">R<tspan dy="-2.6" font-size="4.5">2</tspan><tspan dy="2.6">=0.88</tspan></text>
<text x="67.10" y="467.90" font-size="6.7" fill="#222" class="sm">**p=0.0052</text>
<text class="sm" x="59.20" y="487.90" font-size="6.7" fill="#222"><tspan font-style="italic">SRSF2</tspan> P95H</text>
<text class="sm" x="58.00" y="506.00" font-size="6.7" fill="#222"><tspan font-style="italic">ASXL1</tspan></text>
<text class="sm" x="58.00" y="514.10" font-size="6.7" fill="#222"><tspan font-style="italic">G642fs</tspan></text>
<text class="sm" x="113.10" y="513.40" font-size="6.7" fill="#222"><tspan font-style="italic">TET2</tspan> Q976fs</text>
<text class="sm" x="109.20" y="523.40" font-size="6.7" fill="#222"><tspan font-style="italic">NRAS</tspan> G13V</text>
<text class="sm" x="88.80" y="545.40" font-size="6.7" fill="#222"><tspan font-style="italic">NF1</tspan> P1553fs</text>
<line x1="224.10" y1="553.20" x2="328.50" y2="450.50" stroke="#8a1a3e" stroke-width="1.15"/>
<rect x="224.10" y="450.50" width="104.40" height="102.70" fill="none" stroke="#000" stroke-width="1.3"/>
<line x1="220.90" y1="553.20" x2="224.10" y2="553.20" stroke="#000" stroke-width="1.3"/>
<text x="217.70" y="556.20" font-size="8.3" text-anchor="end" textLength="16.20" lengthAdjust="spacingAndGlyphs">0.00</text>
<line x1="224.10" y1="553.20" x2="224.10" y2="556.60" stroke="#000" stroke-width="1.3"/>
<text x="224.10" y="567.40" font-size="8.3" text-anchor="middle" textLength="16.20" lengthAdjust="spacingAndGlyphs">0.00</text>
<line x1="220.90" y1="527.53" x2="224.10" y2="527.53" stroke="#000" stroke-width="1.3"/>
<text x="217.70" y="530.53" font-size="8.3" text-anchor="end" textLength="16.20" lengthAdjust="spacingAndGlyphs">0.25</text>
<line x1="250.20" y1="553.20" x2="250.20" y2="556.60" stroke="#000" stroke-width="1.3"/>
<text x="250.20" y="567.40" font-size="8.3" text-anchor="middle" textLength="16.20" lengthAdjust="spacingAndGlyphs">0.25</text>
<line x1="220.90" y1="501.85" x2="224.10" y2="501.85" stroke="#000" stroke-width="1.3"/>
<text x="217.70" y="504.85" font-size="8.3" text-anchor="end" textLength="16.20" lengthAdjust="spacingAndGlyphs">0.50</text>
<line x1="276.30" y1="553.20" x2="276.30" y2="556.60" stroke="#000" stroke-width="1.3"/>
<text x="276.30" y="567.40" font-size="8.3" text-anchor="middle" textLength="16.20" lengthAdjust="spacingAndGlyphs">0.50</text>
<line x1="220.90" y1="476.18" x2="224.10" y2="476.18" stroke="#000" stroke-width="1.3"/>
<text x="217.70" y="479.18" font-size="8.3" text-anchor="end" textLength="16.20" lengthAdjust="spacingAndGlyphs">0.75</text>
<line x1="302.40" y1="553.20" x2="302.40" y2="556.60" stroke="#000" stroke-width="1.3"/>
<text x="302.40" y="567.40" font-size="8.3" text-anchor="middle" textLength="16.20" lengthAdjust="spacingAndGlyphs">0.75</text>
<line x1="220.90" y1="450.50" x2="224.10" y2="450.50" stroke="#000" stroke-width="1.3"/>
<text x="217.70" y="453.50" font-size="8.3" text-anchor="end" textLength="16.20" lengthAdjust="spacingAndGlyphs">1.00</text>
<line x1="328.50" y1="553.20" x2="328.50" y2="556.60" stroke="#000" stroke-width="1.3"/>
<text x="328.50" y="567.40" font-size="8.3" text-anchor="middle" textLength="16.20" lengthAdjust="spacingAndGlyphs">1.00</text>
<text x="276.30" y="581.80" font-size="10" text-anchor="middle" textLength="127.00" lengthAdjust="spacingAndGlyphs">VAF of primary CMML BM cells</text>
<text x="194.70" y="501.50" font-size="10" text-anchor="middle" textLength="128.30" lengthAdjust="spacingAndGlyphs" transform="rotate(-90 194.70 501.50)">VAF of hCD45+ cells in the PDX</text>
<text x="276.50" y="443.30" font-size="10.1" text-anchor="middle" textLength="45.00" lengthAdjust="spacingAndGlyphs">CMML #6</text>
<line x1="246.20" y1="510.80" x2="255.70" y2="522.30" stroke="#111" stroke-width="1.1"/>
<line x1="277.90" y1="500.00" x2="284.20" y2="506.60" stroke="#111" stroke-width="1.1"/>
<line x1="273.60" y1="522.60" x2="282.60" y2="526.50" stroke="#111" stroke-width="1.1"/>
<line x1="262.10" y1="525.60" x2="273.80" y2="535.00" stroke="#111" stroke-width="1.1"/>
<line x1="236.30" y1="540.20" x2="246.20" y2="544.20" stroke="#111" stroke-width="1.1"/>
<circle cx="277.90" cy="500.00" r="2.75" fill="#88b476" stroke="#0f200f" stroke-width="1.25"/>
<circle cx="255.70" cy="522.30" r="2.75" fill="#88b476" stroke="#0f200f" stroke-width="1.25"/>
<circle cx="262.10" cy="525.60" r="2.75" fill="#88b476" stroke="#0f200f" stroke-width="1.25"/>
<circle cx="273.60" cy="522.60" r="2.75" fill="#88b476" stroke="#0f200f" stroke-width="1.25"/>
<circle cx="236.30" cy="540.20" r="2.75" fill="#88b476" stroke="#0f200f" stroke-width="1.25"/>
<circle cx="224.10" cy="543.40" r="2.75" fill="#88b476" stroke="#0f200f" stroke-width="1.25"/>
<circle cx="230.20" cy="553.20" r="2.75" fill="#88b476" stroke="#0f200f" stroke-width="1.25"/>
<text class="sm" x="238.00" y="460.00" font-size="6.7" fill="#222">R<tspan dy="-2.6" font-size="4.5">2</tspan><tspan dy="2.6">=0.80</tspan></text>
<text x="238.40" y="468.20" font-size="6.7" fill="#222" class="sm">**p=0.0064</text>
<text class="sm" x="228.80" y="498.10" font-size="6.7" fill="#222"><tspan font-style="italic">NF1 c.5268</tspan></text>
<text class="sm" x="228.80" y="506.60" font-size="6.7" fill="#222"><tspan font-style="italic">+1G&gt;A</tspan></text>
<text class="sm" x="281.90" y="514.20" font-size="6.7" fill="#222"><tspan font-style="italic">TET2</tspan> Y1724fs</text>
<text class="sm" x="283.80" y="530.80" font-size="6.7" fill="#222"><tspan font-style="italic">SRSF2</tspan> P95H</text>
<text class="sm" x="272.70" y="540.10" font-size="6.7" fill="#222"><tspan font-style="italic">TET2</tspan> Q891fs</text>
<text class="sm" x="246.60" y="547.70" font-size="6.7" fill="#222"><tspan font-style="italic">ASXL1</tspan> S604fs</text>
<line x1="395.20" y1="553.00" x2="501.50" y2="448.80" stroke="#8a1a3e" stroke-width="1.15"/>
<rect x="395.20" y="448.80" width="106.30" height="104.20" fill="none" stroke="#000" stroke-width="1.3"/>
<line x1="392.00" y1="553.00" x2="395.20" y2="553.00" stroke="#000" stroke-width="1.3"/>
<text x="388.80" y="556.00" font-size="8.3" text-anchor="end" textLength="16.20" lengthAdjust="spacingAndGlyphs">0.00</text>
<line x1="395.20" y1="553.00" x2="395.20" y2="556.40" stroke="#000" stroke-width="1.3"/>
<text x="395.20" y="567.20" font-size="8.3" text-anchor="middle" textLength="16.20" lengthAdjust="spacingAndGlyphs">0.00</text>
<line x1="392.00" y1="526.95" x2="395.20" y2="526.95" stroke="#000" stroke-width="1.3"/>
<text x="388.80" y="529.95" font-size="8.3" text-anchor="end" textLength="16.20" lengthAdjust="spacingAndGlyphs">0.25</text>
<line x1="421.77" y1="553.00" x2="421.77" y2="556.40" stroke="#000" stroke-width="1.3"/>
<text x="421.77" y="567.20" font-size="8.3" text-anchor="middle" textLength="16.20" lengthAdjust="spacingAndGlyphs">0.25</text>
<line x1="392.00" y1="500.90" x2="395.20" y2="500.90" stroke="#000" stroke-width="1.3"/>
<text x="388.80" y="503.90" font-size="8.3" text-anchor="end" textLength="16.20" lengthAdjust="spacingAndGlyphs">0.50</text>
<line x1="448.35" y1="553.00" x2="448.35" y2="556.40" stroke="#000" stroke-width="1.3"/>
<text x="448.35" y="567.20" font-size="8.3" text-anchor="middle" textLength="16.20" lengthAdjust="spacingAndGlyphs">0.50</text>
<line x1="392.00" y1="474.85" x2="395.20" y2="474.85" stroke="#000" stroke-width="1.3"/>
<text x="388.80" y="477.85" font-size="8.3" text-anchor="end" textLength="16.20" lengthAdjust="spacingAndGlyphs">0.75</text>
<line x1="474.93" y1="553.00" x2="474.93" y2="556.40" stroke="#000" stroke-width="1.3"/>
<text x="474.93" y="567.20" font-size="8.3" text-anchor="middle" textLength="16.20" lengthAdjust="spacingAndGlyphs">0.75</text>
<line x1="392.00" y1="448.80" x2="395.20" y2="448.80" stroke="#000" stroke-width="1.3"/>
<text x="388.80" y="451.80" font-size="8.3" text-anchor="end" textLength="16.20" lengthAdjust="spacingAndGlyphs">1.00</text>
<line x1="501.50" y1="553.00" x2="501.50" y2="556.40" stroke="#000" stroke-width="1.3"/>
<text x="501.50" y="567.20" font-size="8.3" text-anchor="middle" textLength="16.20" lengthAdjust="spacingAndGlyphs">1.00</text>
<text x="448.35" y="581.60" font-size="10" text-anchor="middle" textLength="127.00" lengthAdjust="spacingAndGlyphs">VAF of primary CMML BM cells</text>
<text x="365.00" y="500.00" font-size="10" text-anchor="middle" textLength="128.30" lengthAdjust="spacingAndGlyphs" transform="rotate(-90 365.00 500.00)">VAF of hCD45+ cells in the PDX</text>
<text x="448.55" y="443.20" font-size="10.1" text-anchor="middle" textLength="45.00" lengthAdjust="spacingAndGlyphs">CMML #7</text>
<line x1="450.30" y1="482.60" x2="446.50" y2="499.00" stroke="#111" stroke-width="1.1"/>
<line x1="438.50" y1="489.50" x2="443.00" y2="498.00" stroke="#111" stroke-width="1.1"/>
<line x1="443.00" y1="505.00" x2="450.10" y2="515.00" stroke="#111" stroke-width="1.1"/>
<line x1="438.20" y1="515.10" x2="445.50" y2="525.80" stroke="#111" stroke-width="1.1"/>
<line x1="408.10" y1="517.20" x2="411.90" y2="526.60" stroke="#111" stroke-width="1.1"/>
<circle cx="445.40" cy="500.40" r="2.75" fill="#3a4560" stroke="#0a0f1a" stroke-width="1.25"/>
<circle cx="443.90" cy="499.20" r="2.75" fill="#3a4560" stroke="#0a0f1a" stroke-width="1.25"/>
<circle cx="443.00" cy="505.00" r="2.75" fill="#3a4560" stroke="#0a0f1a" stroke-width="1.25"/>
<circle cx="438.20" cy="515.10" r="2.75" fill="#3a4560" stroke="#0a0f1a" stroke-width="1.25"/>
<circle cx="411.90" cy="526.60" r="2.75" fill="#3a4560" stroke="#0a0f1a" stroke-width="1.25"/>
<text class="sm" x="409.20" y="460.00" font-size="6.7" fill="#222">R<tspan dy="-2.6" font-size="4.5">2</tspan><tspan dy="2.6">=0.87</tspan></text>
<text x="409.60" y="468.20" font-size="6.7" fill="#222" class="sm">**p=0.021</text>
<text class="sm" x="416.60" y="477.30" font-size="6.7" fill="#222"><tspan font-style="italic">SETBP1</tspan> D868N</text>
<text class="sm" x="401.20" y="488.80" font-size="6.7" fill="#222"><tspan font-style="italic">SRSF2</tspan> P95H</text>
<text class="sm" x="398.40" y="503.40" font-size="6.7" fill="#222"><tspan font-style="italic">ASXL1</tspan></text>
<text class="sm" x="398.40" y="511.90" font-size="6.7" fill="#222">H630fs</text>
<text class="sm" x="450.80" y="518.80" font-size="6.7" fill="#222"><tspan font-style="italic">PTPN11</tspan> G60R</text>
<text class="sm" x="445.50" y="532.00" font-size="6.7" fill="#222"><tspan font-style="italic">TET2</tspan> P101fs</text>
<line x1="53.10" y1="717.20" x2="156.40" y2="615.00" stroke="#8a1a3e" stroke-width="1.15"/>
<rect x="53.10" y="615.00" width="103.30" height="102.20" fill="none" stroke="#000" stroke-width="1.3"/>
<line x1="49.90" y1="717.20" x2="53.10" y2="717.20" stroke="#000" stroke-width="1.3"/>
<text x="46.70" y="720.20" font-size="8.3" text-anchor="end" textLength="16.20" lengthAdjust="spacingAndGlyphs">0.00</text>
<line x1="53.10" y1="717.20" x2="53.10" y2="720.60" stroke="#000" stroke-width="1.3"/>
<text x="53.10" y="731.40" font-size="8.3" text-anchor="middle" textLength="16.20" lengthAdjust="spacingAndGlyphs">0.00</text>
<line x1="49.90" y1="691.65" x2="53.10" y2="691.65" stroke="#000" stroke-width="1.3"/>
<text x="46.70" y="694.65" font-size="8.3" text-anchor="end" textLength="16.20" lengthAdjust="spacingAndGlyphs">0.25</text>
<line x1="78.93" y1="717.20" x2="78.93" y2="720.60" stroke="#000" stroke-width="1.3"/>
<text x="78.93" y="731.40" font-size="8.3" text-anchor="middle" textLength="16.20" lengthAdjust="spacingAndGlyphs">0.25</text>
<line x1="49.90" y1="666.10" x2="53.10" y2="666.10" stroke="#000" stroke-width="1.3"/>
<text x="46.70" y="669.10" font-size="8.3" text-anchor="end" textLength="16.20" lengthAdjust="spacingAndGlyphs">0.50</text>
<line x1="104.75" y1="717.20" x2="104.75" y2="720.60" stroke="#000" stroke-width="1.3"/>
<text x="104.75" y="731.40" font-size="8.3" text-anchor="middle" textLength="16.20" lengthAdjust="spacingAndGlyphs">0.50</text>
<line x1="49.90" y1="640.55" x2="53.10" y2="640.55" stroke="#000" stroke-width="1.3"/>
<text x="46.70" y="643.55" font-size="8.3" text-anchor="end" textLength="16.20" lengthAdjust="spacingAndGlyphs">0.75</text>
<line x1="130.58" y1="717.20" x2="130.58" y2="720.60" stroke="#000" stroke-width="1.3"/>
<text x="130.58" y="731.40" font-size="8.3" text-anchor="middle" textLength="16.20" lengthAdjust="spacingAndGlyphs">0.75</text>
<line x1="49.90" y1="615.00" x2="53.10" y2="615.00" stroke="#000" stroke-width="1.3"/>
<text x="46.70" y="618.00" font-size="8.3" text-anchor="end" textLength="16.20" lengthAdjust="spacingAndGlyphs">1.00</text>
<line x1="156.40" y1="717.20" x2="156.40" y2="720.60" stroke="#000" stroke-width="1.3"/>
<text x="156.40" y="731.40" font-size="8.3" text-anchor="middle" textLength="16.20" lengthAdjust="spacingAndGlyphs">1.00</text>
<text x="104.75" y="745.80" font-size="10" text-anchor="middle" textLength="127.00" lengthAdjust="spacingAndGlyphs">VAF of primary CMML BM cells</text>
<text x="24.00" y="666.00" font-size="10" text-anchor="middle" textLength="128.30" lengthAdjust="spacingAndGlyphs" transform="rotate(-90 24.00 666.00)">VAF of hCD45+ cells in the PDX</text>
<text x="104.95" y="609.00" font-size="10.1" text-anchor="middle" textLength="45.00" lengthAdjust="spacingAndGlyphs">CMML #9</text>
<line x1="93.50" y1="653.50" x2="100.90" y2="665.50" stroke="#111" stroke-width="1.1"/>
<line x1="96.30" y1="671.80" x2="105.50" y2="681.90" stroke="#111" stroke-width="1.1"/>
<line x1="85.00" y1="681.20" x2="93.00" y2="692.30" stroke="#111" stroke-width="1.1"/>
<line x1="78.80" y1="688.30" x2="87.20" y2="701.50" stroke="#111" stroke-width="1.1"/>
<line x1="63.50" y1="685.40" x2="70.50" y2="696.40" stroke="#111" stroke-width="1.1"/>
<line x1="68.30" y1="701.00" x2="75.00" y2="710.80" stroke="#111" stroke-width="1.1"/>
<circle cx="100.90" cy="665.50" r="2.75" fill="#e8985a" stroke="#2a1208" stroke-width="1.25"/>
<circle cx="96.30" cy="671.80" r="2.75" fill="#e8985a" stroke="#2a1208" stroke-width="1.25"/>
<circle cx="85.00" cy="681.20" r="2.75" fill="#e8985a" stroke="#2a1208" stroke-width="1.25"/>
<circle cx="78.80" cy="688.30" r="2.75" fill="#e8985a" stroke="#2a1208" stroke-width="1.25"/>
<circle cx="70.50" cy="696.40" r="2.75" fill="#e8985a" stroke="#2a1208" stroke-width="1.25"/>
<circle cx="68.30" cy="701.00" r="2.75" fill="#e8985a" stroke="#2a1208" stroke-width="1.25"/>
<text class="sm" x="65.30" y="625.30" font-size="6.7" fill="#222">R<tspan dy="-2.6" font-size="4.5">2</tspan><tspan dy="2.6">=0.99</tspan></text>
<text x="65.70" y="633.50" font-size="6.7" fill="#222" class="sm">**p&lt;0.0001</text>
<text class="sm" x="63.90" y="649.60" font-size="6.7" fill="#222"><tspan font-style="italic">SRSF2</tspan> P95T</text>
<text class="sm" x="57.00" y="671.50" font-size="6.7" fill="#222"><tspan font-style="italic">IDH2</tspan></text>
<text class="sm" x="57.00" y="679.60" font-size="6.7" fill="#222">R140Q</text>
<text class="sm" x="106.20" y="686.50" font-size="6.7" fill="#222"><tspan font-style="italic">NRAS</tspan> G12D</text>
<text class="sm" x="93.00" y="697.40" font-size="6.7" fill="#222"><tspan font-style="italic">ASXL1</tspan> G642fs</text>
<text class="sm" x="87.70" y="706.60" font-size="6.7" fill="#222"><tspan font-style="italic">IDH1</tspan> R132H</text>
<text class="sm" x="76.20" y="715.40" font-size="6.7" fill="#222"><tspan font-style="italic">NPM1</tspan> L287fs</text>
<line x1="224.10" y1="717.10" x2="328.60" y2="614.90" stroke="#8a1a3e" stroke-width="1.15"/>
<rect x="224.10" y="614.90" width="104.50" height="102.20" fill="none" stroke="#000" stroke-width="1.3"/>
<line x1="220.90" y1="717.10" x2="224.10" y2="717.10" stroke="#000" stroke-width="1.3"/>
<text x="217.70" y="720.10" font-size="8.3" text-anchor="end" textLength="16.20" lengthAdjust="spacingAndGlyphs">0.00</text>
<line x1="224.10" y1="717.10" x2="224.10" y2="720.50" stroke="#000" stroke-width="1.3"/>
<text x="224.10" y="731.30" font-size="8.3" text-anchor="middle" textLength="16.20" lengthAdjust="spacingAndGlyphs">0.00</text>
<line x1="220.90" y1="691.55" x2="224.10" y2="691.55" stroke="#000" stroke-width="1.3"/>
<text x="217.70" y="694.55" font-size="8.3" text-anchor="end" textLength="16.20" lengthAdjust="spacingAndGlyphs">0.25</text>
<line x1="250.22" y1="717.10" x2="250.22" y2="720.50" stroke="#000" stroke-width="1.3"/>
<text x="250.22" y="731.30" font-size="8.3" text-anchor="middle" textLength="16.20" lengthAdjust="spacingAndGlyphs">0.25</text>
<line x1="220.90" y1="666.00" x2="224.10" y2="666.00" stroke="#000" stroke-width="1.3"/>
<text x="217.70" y="669.00" font-size="8.3" text-anchor="end" textLength="16.20" lengthAdjust="spacingAndGlyphs">0.50</text>
<line x1="276.35" y1="717.10" x2="276.35" y2="720.50" stroke="#000" stroke-width="1.3"/>
<text x="276.35" y="731.30" font-size="8.3" text-anchor="middle" textLength="16.20" lengthAdjust="spacingAndGlyphs">0.50</text>
<line x1="220.90" y1="640.45" x2="224.10" y2="640.45" stroke="#000" stroke-width="1.3"/>
<text x="217.70" y="643.45" font-size="8.3" text-anchor="end" textLength="16.20" lengthAdjust="spacingAndGlyphs">0.75</text>
<line x1="302.48" y1="717.10" x2="302.48" y2="720.50" stroke="#000" stroke-width="1.3"/>
<text x="302.48" y="731.30" font-size="8.3" text-anchor="middle" textLength="16.20" lengthAdjust="spacingAndGlyphs">0.75</text>
<line x1="220.90" y1="614.90" x2="224.10" y2="614.90" stroke="#000" stroke-width="1.3"/>
<text x="217.70" y="617.90" font-size="8.3" text-anchor="end" textLength="16.20" lengthAdjust="spacingAndGlyphs">1.00</text>
<line x1="328.60" y1="717.10" x2="328.60" y2="720.50" stroke="#000" stroke-width="1.3"/>
<text x="328.60" y="731.30" font-size="8.3" text-anchor="middle" textLength="16.20" lengthAdjust="spacingAndGlyphs">1.00</text>
<text x="276.35" y="745.70" font-size="10" text-anchor="middle" textLength="127.00" lengthAdjust="spacingAndGlyphs">VAF of primary CMML BM cells</text>
<text x="194.70" y="666.00" font-size="10" text-anchor="middle" textLength="128.30" lengthAdjust="spacingAndGlyphs" transform="rotate(-90 194.70 666.00)">VAF of hCD45+ cells in the PDX</text>
<text x="276.55" y="608.90" font-size="10.1" text-anchor="middle" textLength="50.00" lengthAdjust="spacingAndGlyphs">CMML #18</text>
<line x1="267.00" y1="654.50" x2="273.00" y2="663.60" stroke="#111" stroke-width="1.1"/>
<line x1="275.10" y1="667.70" x2="281.90" y2="676.90" stroke="#111" stroke-width="1.1"/>
<line x1="268.80" y1="670.60" x2="278.50" y2="685.00" stroke="#111" stroke-width="1.1"/>
<line x1="230.20" y1="713.00" x2="249.60" y2="707.00" stroke="#111" stroke-width="1.1"/>
<line x1="228.20" y1="717.40" x2="249.60" y2="713.90" stroke="#111" stroke-width="1.1"/>
<circle cx="273.00" cy="663.60" r="2.75" fill="#b01e5a" stroke="#2a0614" stroke-width="1.25"/>
<circle cx="275.10" cy="667.70" r="2.75" fill="#b01e5a" stroke="#2a0614" stroke-width="1.25"/>
<circle cx="268.80" cy="670.60" r="2.75" fill="#b01e5a" stroke="#2a0614" stroke-width="1.25"/>
<circle cx="230.20" cy="713.00" r="2.75" fill="#b01e5a" stroke="#2a0614" stroke-width="1.25"/>
<circle cx="228.20" cy="717.40" r="2.75" fill="#b01e5a" stroke="#2a0614" stroke-width="1.25"/>
<text class="sm" x="235.30" y="624.50" font-size="6.7" fill="#222">R<tspan dy="-2.6" font-size="4.5">2</tspan><tspan dy="2.6">=0.99</tspan></text>
<text x="235.70" y="632.70" font-size="6.7" fill="#222" class="sm">**p=0.0003</text>
<text class="sm" x="229.30" y="652.20" font-size="6.7" fill="#222"><tspan font-style="italic">ASXL1</tspan> L868fs</text>
<text class="sm" x="283.80" y="682.20" font-size="6.7" fill="#222"><tspan font-style="italic">TET2</tspan> L1039fs</text>
<text class="sm" x="278.50" y="691.50" font-size="6.7" fill="#222"><tspan font-style="italic">KRAS</tspan> G12A</text>
<text class="sm" x="250.80" y="705.80" font-size="6.7" fill="#222"><tspan font-style="italic">KRAS</tspan> G12V</text>
<text class="sm" x="250.80" y="714.50" font-size="6.7" fill="#222"><tspan font-style="italic">KRAS</tspan> G12D</text>
<line x1="395.10" y1="717.20" x2="498.00" y2="615.50" stroke="#8a1a3e" stroke-width="1.15"/>
<rect x="395.10" y="615.50" width="102.90" height="101.70" fill="none" stroke="#000" stroke-width="1.3"/>
<line x1="391.90" y1="717.20" x2="395.10" y2="717.20" stroke="#000" stroke-width="1.3"/>
<text x="388.70" y="720.20" font-size="8.3" text-anchor="end" textLength="16.20" lengthAdjust="spacingAndGlyphs">0.00</text>
<line x1="395.10" y1="717.20" x2="395.10" y2="720.60" stroke="#000" stroke-width="1.3"/>
<text x="395.10" y="731.40" font-size="8.3" text-anchor="middle" textLength="16.20" lengthAdjust="spacingAndGlyphs">0.00</text>
<line x1="391.90" y1="691.78" x2="395.10" y2="691.78" stroke="#000" stroke-width="1.3"/>
<text x="388.70" y="694.78" font-size="8.3" text-anchor="end" textLength="16.20" lengthAdjust="spacingAndGlyphs">0.25</text>
<line x1="420.83" y1="717.20" x2="420.83" y2="720.60" stroke="#000" stroke-width="1.3"/>
<text x="420.83" y="731.40" font-size="8.3" text-anchor="middle" textLength="16.20" lengthAdjust="spacingAndGlyphs">0.25</text>
<line x1="391.90" y1="666.35" x2="395.10" y2="666.35" stroke="#000" stroke-width="1.3"/>
<text x="388.70" y="669.35" font-size="8.3" text-anchor="end" textLength="16.20" lengthAdjust="spacingAndGlyphs">0.50</text>
<line x1="446.55" y1="717.20" x2="446.55" y2="720.60" stroke="#000" stroke-width="1.3"/>
<text x="446.55" y="731.40" font-size="8.3" text-anchor="middle" textLength="16.20" lengthAdjust="spacingAndGlyphs">0.50</text>
<line x1="391.90" y1="640.92" x2="395.10" y2="640.92" stroke="#000" stroke-width="1.3"/>
<text x="388.70" y="643.92" font-size="8.3" text-anchor="end" textLength="16.20" lengthAdjust="spacingAndGlyphs">0.75</text>
<line x1="472.27" y1="717.20" x2="472.27" y2="720.60" stroke="#000" stroke-width="1.3"/>
<text x="472.27" y="731.40" font-size="8.3" text-anchor="middle" textLength="16.20" lengthAdjust="spacingAndGlyphs">0.75</text>
<line x1="391.90" y1="615.50" x2="395.10" y2="615.50" stroke="#000" stroke-width="1.3"/>
<text x="388.70" y="618.50" font-size="8.3" text-anchor="end" textLength="16.20" lengthAdjust="spacingAndGlyphs">1.00</text>
<line x1="498.00" y1="717.20" x2="498.00" y2="720.60" stroke="#000" stroke-width="1.3"/>
<text x="498.00" y="731.40" font-size="8.3" text-anchor="middle" textLength="16.20" lengthAdjust="spacingAndGlyphs">1.00</text>
<text x="446.55" y="745.80" font-size="10" text-anchor="middle" textLength="127.00" lengthAdjust="spacingAndGlyphs">VAF of primary CMML BM cells</text>
<text x="365.00" y="666.00" font-size="10" text-anchor="middle" textLength="128.30" lengthAdjust="spacingAndGlyphs" transform="rotate(-90 365.00 666.00)">VAF of hCD45+ cells in the PDX</text>
<text x="446.75" y="609.00" font-size="10.1" text-anchor="middle" textLength="50.00" lengthAdjust="spacingAndGlyphs">CMML #25</text>
<line x1="402.30" y1="666.50" x2="404.60" y2="690.80" stroke="#111" stroke-width="1.1"/>
<line x1="418.40" y1="682.90" x2="446.80" y2="686.90" stroke="#111" stroke-width="1.1"/>
<line x1="419.50" y1="686.70" x2="433.50" y2="697.20" stroke="#111" stroke-width="1.1"/>
<line x1="398.20" y1="705.60" x2="416.20" y2="711.50" stroke="#111" stroke-width="1.1"/>
<circle cx="406.30" cy="693.00" r="2.75" fill="#8a1a30" stroke="#2a0610" stroke-width="1.25"/>
<circle cx="418.40" cy="682.90" r="2.75" fill="#8a1a30" stroke="#2a0610" stroke-width="1.25"/>
<circle cx="419.50" cy="686.70" r="2.75" fill="#8a1a30" stroke="#2a0610" stroke-width="1.25"/>
<circle cx="398.20" cy="705.60" r="2.75" fill="#8a1a30" stroke="#2a0610" stroke-width="1.25"/>
<text class="sm" x="407.60" y="626.80" font-size="6.7" fill="#222">R<tspan dy="-2.6" font-size="4.5">2</tspan><tspan dy="2.6">=0.91</tspan></text>
<text x="408.00" y="635.00" font-size="6.7" fill="#222" class="sm">*p=0.046</text>
<text class="sm" x="400.00" y="663.80" font-size="6.7" fill="#222"><tspan font-style="italic">TET2</tspan> Q904*</text>
<text class="sm" x="449.20" y="690.30" font-size="6.7" fill="#222"><tspan font-style="italic">ASXL1</tspan> Q733*</text>
<text class="sm" x="438.50" y="703.90" font-size="6.7" fill="#222"><tspan font-style="italic">PHF6</tspan> G29fs</text>
<text class="sm" x="419.20" y="714.50" font-size="6.7" fill="#222"><tspan font-style="italic">TET2</tspan> Q321*</text>
<path d="M0.7,0.6 H519.3 V754.8 H0.7 Z" fill="none" stroke="#000" stroke-width="1.4"/>
<line x1="0" y1="755.3" x2="520" y2="755.3" stroke="#000" stroke-width="1"/>
</svg>
</body></html>
